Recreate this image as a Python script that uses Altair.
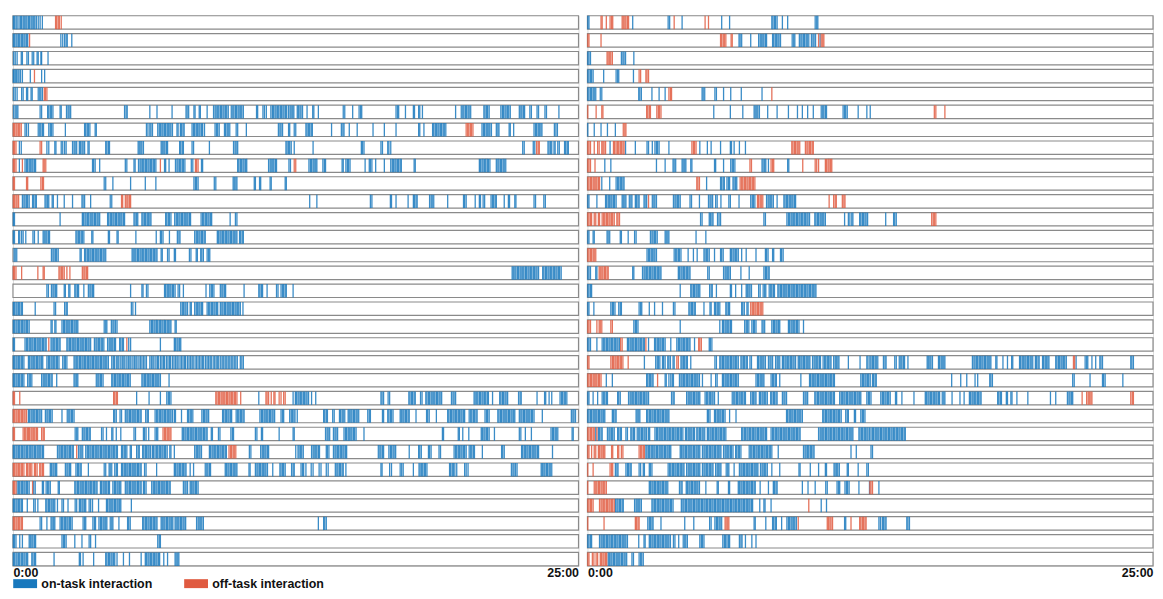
import altair as alt
import pandas as pd

# ---------------- data: interaction times (seconds) per student row ----------------
SESSION_SECONDS = 1500
KINDS = ["on-task interaction", "off-task interaction"]
COLORS = ["#1878bd", "#e05a40"]

# Left column of students
L01_ON = [1,4,8,11,16,20,23,27,30,34,37,41,44,48,51,55,58,62,67,72,78]
L01_OFF = [113,116,120,123,128]
L02_ON = [1,4,8,11,15,18,22,25,29,32,36,39,127,132,137,141,144,156]
L02_OFF = [44]
L03_ON = [2,6,11,22,25,37,41,51,55,64,67,74,76,93]
L03_OFF = []
L04_ON = [1,3,6,9,13,16,20,25,46,76,84]
L04_OFF = [57]
L05_ON = [2,6,11,23,27,36,39,48,51,67,71,74,78]
L05_OFF = [83,86,90]
L06_ON = [2,6,10,13,72,76,92,95,99,102,106,125,128,142,146,149,153,296,300,303,363,382,422,459,462,466,480,483,494,497,515,532,536,539,543,546,550,553,557,560,564,567,571,579,583,586,590,593,597,600,604,607,611,646,649,663,667,672,684,688,691,695,698,702,705,709,712,716,719,723,726,731,735,738,742,745,754,757,761,764,768,780,795,798,810,876,880,901,918,922,925,1016,1020,1023,1041,1062,1065,1076,1079,1086,1174,1189,1193,1196,1200,1203,1207,1210,1214,1249,1252,1256,1259,1263,1294,1298,1301,1305,1308,1312,1315,1319,1343,1347,1350,1354,1357,1371,1375,1390,1394,1411,1415,1448]
L06_OFF = []
L07_ON = [32,36,41,67,71,74,78,81,95,99,102,106,139,190,193,197,200,204,218,221,354,358,363,366,370,384,388,391,395,398,402,405,409,412,416,419,423,435,438,444,447,451,454,475,479,482,486,489,493,496,500,503,508,536,540,543,547,561,564,568,571,575,592,596,619,704,708,711,715,731,734,746,750,777,780,784,787,791,794,845,871,875,878,892,913,955,985,1016,1076,1079,1090,1113,1116,1120,1123,1127,1130,1134,1137,1141,1144,1148,1244,1248,1251,1255,1258,1262,1265,1269,1282,1286,1289,1316,1319,1328,1382,1386,1389,1393,1396,1400,1403,1436,1440,1444]
L07_OFF = [1,4,8,11,15,18,22,1202,1206,1209,1213,1216,1220]
L08_ON = [17,22,90,95,111,114,128,132,137,141,158,162,165,169,176,179,183,186,190,199,202,246,249,253,256,332,335,339,342,346,393,396,400,403,407,410,442,445,449,452,475,479,521,585,589,592,596,724,727,731,734,738,746,796,924,927,931,976,980,994,997,1002,1352,1356,1380,1384,1419,1422,1426,1429,1435,1438,1445,1449,1463,1466,1470,1473]
L08_OFF = [1,4,8,72,76,1389,1393,1396]
L09_ON = [17,32,36,39,43,46,50,53,57,60,211,214,218,230,298,302,321,324,333,337,340,344,347,351,354,358,361,365,368,372,375,379,402,405,414,431,435,438,442,445,449,452,456,473,477,500,503,596,599,603,606,610,613,617,620,678,682,685,689,692,696,699,732,736,785,789,792,796,799,803,806,822,826,829,873,876,883,887,890,894,934,945,948,952,962,985,1002,1006,1009,1013,1016,1020,1023,1027,1030,1064,1067,1237,1240,1244,1247,1251,1254,1258,1261,1265,1282,1286,1289,1293,1296,1300,1303,1307]
L09_OFF = [1,4,8,25,80,83,87,391,484,487,491,746,750]
L10_ON = [242,246,265,312,351,379,480,484,487,491,534,538,584,587,591,594,640,643,654,657,682,685,722,725]
L10_OFF = [1,4,36,39,74,78,81]
L11_ON = [25,29,32,36,39,43,52,55,59,62,85,88,92,95,104,107,118,136,158,183,186,190,206,258,262,787,806,948,952,1001,1004,1016,1048,1062,1065,1069,1072,1105,1109,1112,1116,1153,1195,1198,1202,1226,1237,1240,1247,1251,1268,1272,1275,1279,1282,1303,1314,1317,1331,1334,1382,1386,1408,1412]
L11_OFF = [1,4,8,11,15,288,291,298,302,305,309,312]
L12_ON = [1,4,125,184,187,191,194,198,201,205,209,212,216,219,223,226,230,251,254,258,261,265,268,272,275,279,282,286,289,293,296,321,324,328,331,342,345,349,352,356,359,363,366,405,408,412,415,419,429,433,436,440,443,447,450,454,457,461,464,468,471,499,503,506,510,513,517,520,524,527,576,590,594]
L12_OFF = []
L13_ON = [1,4,15,18,23,27,34,53,57,67,80,83,87,90,94,97,167,170,174,177,181,184,188,209,212,253,256,276,279,326,380,391,394,398,415,436,440,443,482,486,489,493,496,500,503,507,510,542,545,549,552,556,559,563,566,570,573,577,580,584,587,591,594,601,604,608,611]
L13_OFF = []
L14_ON = [3,6,10,102,106,109,113,116,120,178,181,190,193,197,200,204,207,211,214,218,221,225,228,232,235,239,242,246,316,319,323,326,330,333,337,340,344,347,351,354,358,361,365,368,372,375,379,382,393,396,410,414,428,431,468,472,486,489,498,501,505,515,519,522]
L14_OFF = []
L15_ON = [1324,1327,1331,1334,1338,1341,1345,1348,1352,1355,1359,1362,1366,1369,1373,1376,1380,1383,1387,1390,1394,1405,1408,1412,1415,1419,1422,1426,1429,1433,1436,1440,1443,1447,1450,1454]
L15_OFF = [1,4,8,23,66,80,83,122,125,129,132,136,143,151,184,188,191,195,198]
L16_ON = [90,94,102,106,109,113,116,136,139,148,151,164,167,171,174,188,200,204,207,211,214,312,342,345,354,358,402,405,409,412,416,419,423,426,430,438,442,452,512,522,526,529,533,550,554,557,561,564,613,652,655,659,662,674,699,703,711,715,718,722,725,743]
L16_OFF = []
L17_ON = [1,4,8,11,15,18,22,25,59,109,113,137,141,144,314,318,325,445,449,452,456,459,463,470,473,482,486,489,493,496,500,503,515,519,522,526,529,533,536,540,543,550,554,557,561,564,568,571,575,578,582,585,589,592,596,599,603,610]
L17_OFF = []
L18_ON = [1,4,8,11,15,18,22,25,29,32,36,39,43,101,104,111,114,130,134,137,141,144,148,151,155,158,162,165,169,172,242,246,249,261,265,268,272,276,363,367,370,374,377,381,384,388,391,395,398,402,405,409,412,416,419,430,433]
L18_OFF = []
L19_ON = [1,4,32,36,39,43,46,50,53,57,60,64,67,71,74,78,81,85,88,101,104,108,111,115,118,122,125,143,146,150,153,157,160,164,167,171,174,178,181,185,188,192,195,199,202,206,216,220,223,227,230,234,237,241,251,255,258,262,265,269,272,283,286,290,293,307,312,391,428,431,435,438,442,445]
L19_OFF = [95,302]
L20_ON = [1,4,8,11,15,18,22,25,29,41,44,48,51,55,58,62,65,69,72,76,79,90,94,97,101,104,108,111,115,118,122,132,136,139,143,162,165,169,172,176,179,183,186,190,193,197,200,204,207,211,214,218,221,225,228,232,235,239,242,246,249,253,262,266,269,274,278,281,286,290,294,297,302,306,310,313,318,322,326,329,334,338,342,346,350,354,363,367,371,374,379,383,386,391,395,399,402,407,411,415,418,423,427,431,435,438,443,447,451,455,458,463,467,471,475,478,483,487,491,495,499,503,506,511,515,519,523,526,531,535,539,543,546,551,555,559,563,567,571,575,579,583,587,591,595,603,607,611]
L20_OFF = []
L21_ON = [1,4,8,11,15,18,22,25,29,39,43,46,50,76,80,83,87,90,94,97,101,104,116,162,165,169,172,221,225,228,232,235,239,262,265,269,272,276,279,283,286,290,293,297,300,304,307,311,342,345,349,352,356,359,363,366,370,373,377,380,384,387,391,414]
L21_OFF = []
L22_ON = [328,361,391,408,412,415,419,652,743,749,752,756,759,763,766,770,773,777,780,784,792,803,976,979,983,995,999,1050,1053,1057,1060,1064,1067,1081,1085,1095,1098,1102,1105,1109,1112,1116,1119,1123,1126,1130,1133,1137,1163,1167,1170,1174,1223,1226,1230,1233,1237,1240,1244,1247,1251,1254,1258,1261,1272,1291,1294,1298,1301,1305,1308,1312,1341,1345,1348,1390,1410,1413,1422,1429,1451,1455,1458,1462,1465,1469]
L22_OFF = [1,4,18,267,270,274,277,538,541,545,548,552,555,559,562,566,569,573,576,580,583,587,590,594,604,671,674,678,685,692,695,706,711,718,722]
L23_ON = [41,44,48,51,55,58,62,65,69,72,76,86,90,93,97,100,104,130,144,148,151,155,158,162,267,270,274,284,288,298,302,305,309,312,316,319,323,326,330,333,337,340,352,356,359,377,381,384,388,391,395,398,402,405,409,412,416,419,423,428,431,447,463,466,470,473,477,501,505,508,512,515,519,556,559,563,566,570,573,577,580,592,596,599,603,606,610,613,655,659,662,666,669,673,676,680,683,687,690,694,711,715,718,734,738,741,745,748,754,824,827,831,834,848,852,866,869,873,876,880,889,892,896,899,903,906,910,913,917,941,945,948,980,983,994,997,1001,1004,1008,1027,1030,1034,1037,1041,1044,1048,1051,1069,1097,1100,1104,1123,1153,1156,1160,1163,1167,1170,1174,1177,1181,1184,1188,1191,1195,1198,1210,1214,1217,1221,1224,1228,1231,1252,1256,1259,1263,1286,1289,1293,1296,1300,1303,1307,1310,1314,1317,1321,1324,1328,1331,1343,1347,1350,1354,1357,1361,1364,1368,1371,1375,1378,1382,1404,1481,1485,1488,1492]
L23_OFF = [1,4,8,11,15,18,22,25,29,32,36]
L24_ON = [165,169,172,184,188,191,195,198,202,205,235,239,248,262,265,274,286,321,325,346,349,353,360,377,381,384,449,452,456,459,463,466,470,473,477,480,484,487,491,494,498,501,505,508,512,515,526,529,545,549,578,582,585,643,647,659,662,706,743,746,829,833,836,840,850,854,857,861,878,882,885,889,892,896,899,903,906,910,931,1139,1142,1181,1184,1193,1209,1242,1245,1249,1252,1256,1259,1263,1277,1343,1347,1359,1375,1427,1431,1434,1438,1441,1445,1483,1486]
L24_OFF = [1,4,27,31,34,38,41,44,48,51,55,58,62,65,76,80,83,398,402,405,409,412,416,419]
L25_ON = [1,4,8,11,15,18,22,25,29,32,36,39,43,46,50,53,57,60,64,67,71,74,78,81,118,122,125,129,132,136,139,143,146,150,153,157,160,174,178,181,185,193,197,200,204,207,211,214,218,221,225,228,232,235,239,242,246,249,253,256,260,263,267,270,274,277,288,291,295,298,302,311,314,328,332,335,344,347,351,354,358,361,365,370,373,377,381,384,388,391,395,398,402,405,409,416,419,428,482,486,489,493,496,500,521,524,528,531,535,538,542,545,549,552,556,559,563,566,627,631,657,661,664,668,671,675,678,750,756,759,763,766,770,792,796,799,803,806,810,813,831,834,838,850,854,857,861,864,868,871,875,878,882,885,969,973,976,980,983,997,1001,1004,1008,1011,1015,1051,1076,1079,1083,1102,1105,1109,1130,1134,1170,1174,1177,1181,1184,1188,1191,1195,1198,1202,1210,1214,1217,1221,1224,1245,1296,1299,1303,1349,1352,1356,1359,1363,1366,1370,1373,1377,1380,1384,1387,1391,1394,1431]
L25_OFF = [169,573,577,580,584,587,591]
L26_ON = [99,102,106,109,113,116,139,143,146,150,153,167,171,174,178,181,200,242,246,255,258,262,270,274,277,288,291,295,298,302,305,309,312,316,319,323,326,330,333,337,340,349,353,381,428,431,435,438,442,445,449,452,456,459,470,479,510,514,517,521,524,563,566,570,573,577,580,584,587,591,594,626,629,643,647,650,654,657,661,664,668,671,675,689,708,711,715,718,722,739,743,746,764,768,771,777,791,796,812,817,831,836,855,859,862,866,869,873,876,883,976,979,999,1004,1027,1031,1035,1062,1077,1080,1084,1087,1091,1094,1098,1158,1161,1165,1168,1172,1177,1198,1202,1207,1322,1326,1329,1333,1337,1401,1404,1408,1411,1415,1418,1422,1425,1429]
L26_OFF = [1,4,8,11,15,18,22,25,29,36,39,43,46,50,57,60,64,71,74,78,81]
L27_ON = [11,15,18,22,25,29,32,36,39,43,55,59,78,81,88,92,95,99,120,123,164,167,171,174,178,181,185,188,192,195,199,202,206,209,213,216,220,223,232,235,239,242,246,249,253,256,265,269,272,276,279,283,286,298,302,305,309,312,316,319,323,326,330,333,337,340,346,349,353,368,372,375,379,382,386,389,393,396,400,403,407,410,414,417,452,456,459,463,470,473,477,480,484,487,491]
L27_OFF = [1,4,8,52]
L28_ON = [1,4,8,11,15,18,22,25,38,55,59,66,87,90,94,97,101,104,108,111,118,130,134,146,165,169,176,179,183,186,190,193,202,206,211,227,248,251,255,258,262,265,269,272,276,279,283,286,314]
L28_OFF = []
L29_ON = [72,76,90,101,104,108,111,125,129,132,136,139,143,146,150,153,157,186,190,193,212,216,219,228,232,235,239,242,246,249,258,262,265,281,304,307,311,344,347,351,354,358,361,365,368,372,375,379,382,393,396,400,403,407,410,414,417,421,424,430,433,437,440,444,447,451,454,458,487,491,494,498,501,505,810,824,827,831]
L29_OFF = [1,4,8,11,15,18,22,25]
L30_ON = [1,4,8,18,25,43,46,50,53,57,60,130,134,137,141,164,183,202,206,219,384,388,391]
L30_OFF = []
L31_ON = [1,4,8,11,15,18,22,25,29,32,36,39,50,53,57,60,109,176,179,186,214,246,249,253,256,260,263,267,270,276,293,309,340,351,354,358,361,365,368,372,375,379,382,386,389,400,410,430,433,437,440]
L31_OFF = []

# Right column of students
R01_ON = [1,4,120,214,218,251,356,377,489,492,496,499,503,517,531,604,608,611]
R01_OFF = [36,39,50,60,64,67,92,95,99,102,106,109,230,312,321]
R02_ON = [402,405,409,433,454,458,461,465,468,472,475,491,494,498,501,505,508,512,543,547,550,562,566,569,573,576,580,583,587,594,598,601,605,617]
R02_OFF = [1,4,36,353,356,360,363,367,381,384,613,620,624,627]
R03_ON = [1,4,8,90,94,97,101,123]
R03_OFF = [52,55,59,62,66]
R04_ON = [1,4,8,11,15,43,76,80,83,122]
R04_OFF = [137,141,155,158,162]
R05_ON = [1,4,8,11,15,18,22,34,38,136,139,143,171,190,206,304,307,311,338,342,361,380,408,463]
R05_OFF = [216,220,223,489]
R06_ON = [335,379,412,442,445,449,452,456,478,503,533,557,570,584,599,620,624,627,631,634,678,682,685,689,718,741,750]
R06_OFF = [1,23,38,41,157,160,164,167,184,188,191,195,920,924,948]
R07_ON = [1,18,36,53,74]
R07_OFF = [95,99,102]
R08_ON = [60,101,127,158,162,172,179,183,186,190,216,298,318,328,353,379,382,389,403,419]
R08_OFF = [1,4,8,18,27,31,38,41,44,48,69,72,76,80,83,87,90,94,97,277,281,284,288,542,545,549,552,556,559,563,578,582,585,589,592,596,599]
R09_ON = [46,62,183,206,227,230,234,251,254,258,261,274,277,337,340,361,380,384,387,391,463,466,470,473,480,531,534]
R09_OFF = [1,4,8,20,431,435,487,491,494,571,604,608,613,631,634,638,641,645,648]
R10_ON = [38,59,76,80,83,87,90,94,97,316,353,356,360,363,370,374,377,386,389,393,396]
R10_OFF = [1,4,8,11,15,18,22,25,29,32,290,293,297,405,409,412,416,419,423,426,430,433,437,440,444]
R11_ON = [1,4,25,48,51,55,58,62,65,69,72,76,92,95,99,102,111,115,118,127,130,134,137,150,153,157,172,176,179,183,228,232,235,239,242,246,272,276,297,321,325,328,332,340,344,354,375,379,402,433,437,440,444,475,479,482,486,489,493,503,521,524,528,531,535,538,542,545,549,552]
R11_OFF = [162,451,454,458,461,465,641,653,657,660,676,680,683]
R12_ON = [300,304,323,326,330,333,345,349,353,468,472,529,533,536,540,543,547,550,554,557,561,564,568,571,575,578,582,585,589,603,606,610,613,617,620,624,627,631,682,692,696,701,704,722,725,729,732,736,739,743,791,812,815,819]
R12_OFF = [1,4,8,11,18,22,29,32,39,43,46,50,53,57,60,64,67,71,78,81,85,913,917,920,924]
R13_ON = [1,4,15,18,52,55,59,87,90,108,125,129,167,171,174,178,181,185,206,209,213,216,288,314]
R13_OFF = []
R14_ON = [158,162,165,169,172,176,179,183,230,234,237,241,244,248,267,281,291,309,312,316,319,323,337,353,356,360,379,382,386,389,393,396,400,409,421,447,472,475,479,491,494,512,515,519]
R14_OFF = [1,4,8,11,15,18,22]
R15_ON = [1,4,8,22,25,120,123,146,150,153,157,160,164,167,171,174,178,181,185,188,192,195,241,244,248,251,255,258,262,265,269,272,319,323,361,365,368,372,375,379,407,429,468,472,475,479,482]
R15_OFF = [31,34,38,41,45,48,52,55]
R16_ON = [1,4,8,11,246,274,277,281,284,288,291,295,298,324,328,331,342,379,382,393,409,421,424,428,431,435,454,458,466,470,473,482,486,489,493,496,505,508,512,515,519,522,526,529,533,536,540,543,547,550,554,557,561,564,568,571,575,578,582,585,589,592,596,599,603,606]
R16_OFF = []
R17_ON = [1,4,17,62,66,69,73,83,87,90,137,141,144,164,178,199,228,232,269,272,276,279,283,286,309,325,328,337,340,344,347,351,367,370,374,377,409,412,416,423,426]
R17_OFF = [433,437,440,444,447,451,454,458,461,465]
R18_ON = [123,127,130,134,246,351,358,361,365,368,372,375,379,382,417,421,424,428,436,440,443,447,463,466,470,489,493,496,500,503,507,510,533,536,540,543,547,550,554,557,561,573]
R18_OFF = [1,4,8,25,31,34,38,62,66]
R19_ON = [1,4,8,25,39,43,46,50,53,57,60,64,67,71,74,78,81,85,106,109,113,116,120,123,127,130,134,137,141,144,148,151,162,178,181,185,188,192,195,199,202,206,221,237,241,244,248,251,255,258,262,265,269,272,284,323,326,330]
R19_OFF = [88,92,155,295,298,302]
R20_ON = [151,181,185,188,192,199,202,206,213,216,220,227,230,248,251,255,258,262,265,274,338,342,351,354,358,361,365,368,372,375,379,382,386,389,393,396,400,407,410,414,417,421,424,431,435,451,454,458,461,465,468,472,480,484,487,491,499,503,506,510,517,520,524,527,531,534,538,541,545,548,552,559,562,566,569,573,576,580,583,587,590,597,601,604,608,611,615,618,625,629,632,636,639,643,646,653,657,660,664,667,692,723,741,744,749,752,756,759,763,766,770,785,789,792,815,819,827,831,834,838,841,850,901,904,908,911,915,931,934,938,941,945,948,1021,1025,1028,1032,1035,1039,1042,1046,1049,1053,1056,1060,1063,1067,1070,1083,1086,1102,1114,1125,1128,1146,1149,1153,1156,1160,1163,1167,1170,1174,1177,1181,1188,1191,1195,1198,1207,1210,1214,1217,1221,1224,1242,1245,1249,1252,1256,1259,1263,1266,1270,1296,1320,1324,1327,1338,1348,1359,1362,1366,1441,1444,1448]
R20_OFF = [1,4,62,66,69,73,76,80,83,87,90,94,108,237,241,1289,1292]
R21_ON = [50,66,157,160,164,167,171,174,206,209,216,221,225,228,244,248,251,255,258,262,265,269,272,276,279,283,286,290,293,297,305,328,340,344,358,361,365,368,372,375,379,382,386,389,393,396,400,447,451,454,458,461,465,468,487,491,494,498,501,510,566,589,592,596,599,603,606,610,613,617,620,624,627,631,634,638,641,645,648,652,655,725,729,732,736,739,743,746,750,756,759,763,766,966,990,1006,1028,1035,1067,1070,1074,1287,1291,1333,1366,1369,1373,1420]
R21_OFF = [1,4,8,11,15,18,22,25,29,32,36,186]
R22_ON = [1,4,15,27,39,43,46,50,53,80,83,87,109,113,116,120,123,127,130,134,137,141,144,148,151,155,158,162,223,227,230,263,267,270,274,277,281,284,288,291,295,298,312,316,319,323,326,330,333,337,347,384,388,391,395,398,402,405,409,412,416,419,433,437,440,444,447,456,459,463,466,470,473,477,486,489,493,496,500,503,517,521,524,528,573,577,580,584,603,606,610,613,617,620,624,627,631,634,638,641,645,648,652,655,669,673,676,680,683,687,690,694,697,701,704,708,711,715,718,722,725,741,745,748,752,778,782,785,789,792,796,799,803,817,820,834,866,896,899,903,906,910,913,917,920,924,927,931,934,941,945,948,967,988,999,1013,1016,1020,1023,1027,1030,1034,1037,1041,1044,1088,1091,1095,1098,1111,1114,1123,1126,1139,1168,1228,1242,1273,1277,1280,1284,1287]
R22_OFF = [1312,1324,1328,1331,1335,1338,1441,1445,1448]
R23_ON = [1,4,8,11,15,18,22,25,29,32,36,39,43,46,66,69,73,76,129,132,136,139,157,160,164,167,171,174,178,181,185,188,192,195,199,202,206,209,213,216,318,321,325,337,340,344,347,351,354,358,361,365,377,394,528,531,535,538,542,545,549,552,556,559,563,566,570,624,627,631,634,638,641,645,648,652,655,659,662,666,669,673,685,689,692,708,711,725,729,732,736]
R23_OFF = []
R24_ON = [22,29,32,36,39,53,57,60,64,67,71,80,83,87,90,102,106,115,118,122,125,132,136,139,143,146,150,153,157,162,165,179,183,186,190,193,197,200,204,207,211,214,218,221,225,228,232,235,239,242,246,249,253,260,263,267,270,274,277,281,284,290,293,297,300,304,307,311,318,321,325,328,332,335,339,342,346,349,353,356,360,363,367,409,412,416,419,423,426,430,433,437,440,444,447,451,454,458,461,465,468,472,475,487,491,494,498,501,505,508,512,515,519,522,526,529,533,536,540,543,547,550,554,557,561,564,613,617,620,624,627,631,634,638,641,645,648,652,655,659,662,666,669,673,676,680,683,687,690,694,697,701,704,720,723,727,730,734,737,741,744,748,752,756,759,763,766,770,773,777,780,784,787,791,794,798,801,805,808,812,815,819,822,826,829,833,836,840,843]
R24_OFF = [1,4,8,11,15,18,25]
R25_ON = [155,158,162,165,169,172,176,179,183,186,190,193,197,200,204,207,211,214,218,221,246,249,253,256,260,263,267,270,274,277,281,284,288,291,295,298,305,309,312,316,319,323,326,330,333,337,340,344,347,351,354,361,365,368,372,375,379,382,386,393,396,400,403,407,429,433,436,440,443,447,450,454,457,461,464,468,471,475,478,482,485,489,506,573,577,580,584,587,591,594,598,601,699,713,752,756]
R25_OFF = [1,4,11,18,22,29,32,36,39,43,46,64,67,80,83,90,94,137,141,144,148,151]
R26_ON = [74,78,81,102,106,109,113,116,137,141,148,151,164,167,171,214,218,221,225,228,232,235,239,242,246,249,253,256,263,267,270,274,277,281,284,288,291,295,298,305,309,312,316,319,323,326,330,333,340,344,347,351,354,368,372,375,389,403,407,410,414,417,421,424,428,431,435,438,442,445,449,452,459,463,466,470,473,477,489,510,561,564,591,613,631,634,654,657,661,664,668,689,692,718,741,745]
R26_OFF = [1,15,60,64,67]
R27_ON = [164,167,171,174,178,181,185,188,192,195,199,202,206,209,213,244,248,251,262,265,269,272,276,279,283,286,290,293,297,314,344,347,374,377,400,403,407,410,414,417,421,424,428,431,435,438,442,445,458,480,493,496,500,503,570,585,604,632,636,662,666,669,683,687,690,694,720,748,773]
R27_OFF = [1,18,22,25,29,32,36,39,43,46,50,749,752,756]
R28_ON = [74,78,81,85,88,92,95,125,129,132,136,139,143,171,174,178,181,185,188,192,195,199,202,206,209,213,216,220,223,227,249,253,256,260,263,267,270,274,277,281,284,288,291,295,298,302,305,309,312,316,319,323,326,330,333,337,340,344,347,351,354,358,361,365,368,372,375,379,382,386,389,393,396,400,403,407,410,414,417,421,424,428,431,435,438,457,468,471,487,620,634]
R28_OFF = [1,4,8,11,15,32,36,39,43,46,50,53,57,60,64,67,71,587]
R29_ON = [160,164,167,171,174,195,258,282,324,328,338,342,345,349,352,356,442,445,473,491,494,498,501,515,529,533,536,540,543,547,550,554,682,685,773,777,782,785,789,792,847,850,854]
R29_OFF = [1,44,127,130,134,137,365,368,372,375,559,636,639,643,646,650,699,722,725,729,732,736,739]
R30_ON = [1,4,8,11,32,36,39,43,46,50,53,57,60,64,67,71,74,78,81,85,88,92,95,99,102,106,136,150,153,164,167,171,174,178,181,185,188,192,195,199,202,206,209,213,216,220,228,232,242,254,258,261,265,298,302,305,309,359,363,366,370,374,377,403,407,410,419,436,447]
R30_OFF = []
R31_ON = [55,58,62,65,69,72,76,79,83,86,90,93,97,100,104,118,122,137,141,144,148]
R31_OFF = [1,4,13,17,23,27,34,37,41,44,48,51]

LEFT_ROWS = [
    (L01_ON, L01_OFF), (L02_ON, L02_OFF), (L03_ON, L03_OFF), (L04_ON, L04_OFF), (L05_ON, L05_OFF),
    (L06_ON, L06_OFF), (L07_ON, L07_OFF), (L08_ON, L08_OFF), (L09_ON, L09_OFF), (L10_ON, L10_OFF),
    (L11_ON, L11_OFF), (L12_ON, L12_OFF), (L13_ON, L13_OFF), (L14_ON, L14_OFF), (L15_ON, L15_OFF),
    (L16_ON, L16_OFF), (L17_ON, L17_OFF), (L18_ON, L18_OFF), (L19_ON, L19_OFF), (L20_ON, L20_OFF),
    (L21_ON, L21_OFF), (L22_ON, L22_OFF), (L23_ON, L23_OFF), (L24_ON, L24_OFF), (L25_ON, L25_OFF),
    (L26_ON, L26_OFF), (L27_ON, L27_OFF), (L28_ON, L28_OFF), (L29_ON, L29_OFF), (L30_ON, L30_OFF),
    (L31_ON, L31_OFF),
]
RIGHT_ROWS = [
    (R01_ON, R01_OFF), (R02_ON, R02_OFF), (R03_ON, R03_OFF), (R04_ON, R04_OFF), (R05_ON, R05_OFF),
    (R06_ON, R06_OFF), (R07_ON, R07_OFF), (R08_ON, R08_OFF), (R09_ON, R09_OFF), (R10_ON, R10_OFF),
    (R11_ON, R11_OFF), (R12_ON, R12_OFF), (R13_ON, R13_OFF), (R14_ON, R14_OFF), (R15_ON, R15_OFF),
    (R16_ON, R16_OFF), (R17_ON, R17_OFF), (R18_ON, R18_OFF), (R19_ON, R19_OFF), (R20_ON, R20_OFF),
    (R21_ON, R21_OFF), (R22_ON, R22_OFF), (R23_ON, R23_OFF), (R24_ON, R24_OFF), (R25_ON, R25_OFF),
    (R26_ON, R26_OFF), (R27_ON, R27_OFF), (R28_ON, R28_OFF), (R29_ON, R29_OFF), (R30_ON, R30_OFF),
    (R31_ON, R31_OFF),
]

FONT = "Liberation Sans"
N_ROWS = 31
ROW_STEP = 18
PANEL_W = 569


def events_frame(rows):
    recs = []
    for i, (on, off) in enumerate(rows, start=1):
        for t in on:
            recs.append({"row": i, "t": t, "kind": KINDS[0]})
        for t in off:
            recs.append({"row": i, "t": t, "kind": KINDS[1]})
    return pd.DataFrame(recs)


def panel(rows):
    ev = events_frame(rows)
    frames = pd.DataFrame({"row": list(range(1, N_ROWS + 1)),
                           "start": [0] * N_ROWS,
                           "end": [SESSION_SECONDS] * N_ROWS})
    xscale = alt.Scale(domain=[0, SESSION_SECONDS], nice=False, zero=True)
    xaxis = alt.Axis(values=[0, SESSION_SECONDS],
                     labelExpr="floor(datum.value/60) + ':' + (datum.value % 60 < 10 ? '0' : '') + (datum.value % 60)",
                     ticks=False, domain=False, grid=False, title=None,
                     labelFlush=True, labelFontWeight="bold", labelFontSize=12.5,
                     labelColor="#111111", labelPadding=1, labelFont=FONT)
    yenc = alt.Y("row:O",
                 scale=alt.Scale(domain=list(range(1, N_ROWS + 1)), paddingInner=0.25, paddingOuter=0),
                 axis=None)
    bg = alt.Chart(frames).mark_rect(fill="white", stroke="#8a8a8a", strokeWidth=1.2).encode(
        x=alt.X("start:Q", scale=xscale, axis=xaxis),
        x2="end:Q",
        y=yenc,
    )
    ticks = alt.Chart(ev).mark_tick(thickness=1.3, size=ROW_STEP * 0.75, opacity=0.85).encode(
        x=alt.X("t:Q", scale=xscale, axis=xaxis),
        y=yenc,
        color=alt.Color("kind:N",
                        scale=alt.Scale(domain=KINDS, range=COLORS),
                        legend=alt.Legend(orient="none", legendX=6, legendY=565,
                                          direction="horizontal", title=None,
                                          symbolType="M-2,-0.75H2V0.75H-2Z", symbolSize=144,
                                          symbolOpacity=1, symbolStrokeWidth=0,
                                          labelFontSize=12.5, labelFontWeight="bold",
                                          labelFont=FONT, labelColor="#111111",
                                          columnPadding=31, labelOffset=10)),
    )
    return alt.layer(bg, ticks).properties(width=PANEL_W, height=ROW_STEP * (N_ROWS - 0.25))


chart = alt.hconcat(panel(LEFT_ROWS), panel(RIGHT_ROWS), spacing=5).properties(
    padding={"left": 3, "top": 4, "right": 0, "bottom": 0}
).configure_view(stroke=None).configure(font=FONT)

chart.save("out.html", embed_options={"renderer": "svg", "actions": False})
